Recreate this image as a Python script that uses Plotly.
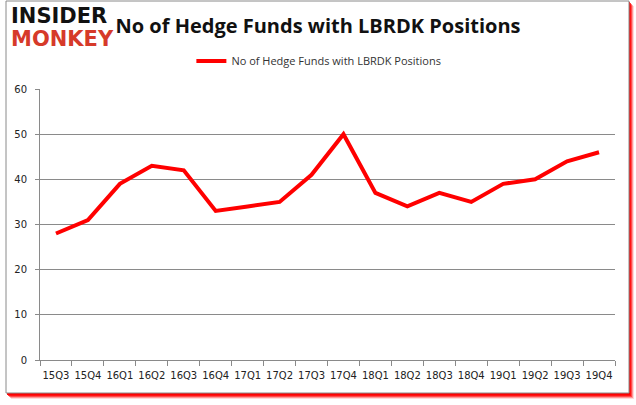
import plotly.graph_objects as go

quarters = ["15Q3", "15Q4", "16Q1", "16Q2", "16Q3", "16Q4", "17Q1", "17Q2", "17Q3",
            "17Q4", "18Q1", "18Q2", "18Q3", "18Q4", "19Q1", "19Q2", "19Q3", "19Q4"]
funds = [28, 31, 39, 43, 42, 33, 34, 35, 41, 50, 37, 34, 37, 35, 39, 40, 44, 46]
series_name = "No of Hedge Funds with LBRDK Positions"
y_ticks = [0, 10, 20, 30, 40, 50, 60]

W, H = 636, 405
L, R, T, B = 40, 21, 89, 45
PW, PH = W - L - R, H - T - B

def px(x):
    return (x - L) / PW

def py(y):
    return (H - B - y) / PH

fig = go.Figure()
fig.add_trace(go.Scatter(
    x=quarters, y=funds, mode="lines", name=series_name,
    line=dict(color="#ff0000", width=4), cliponaxis=False,
))

shapes = []
# blurred red shadow
for off, op in [(5, 0.15), (4, 0.3), (3, 0.5), (2, 0.75), (1, 0.95)]:
    shapes.append(dict(type="rect", xref="paper", yref="paper",
                       x0=px(6 + off), x1=px(629 + off), y0=py(393 + off + 1), y1=py(1 + off),
                       line=dict(width=0), fillcolor="rgba(255,0,0,%s)" % op, layer="below"))
shapes.append(dict(type="rect", xref="paper", yref="paper",
                   x0=px(6), x1=px(629), y0=py(393), y1=py(1),
                   line=dict(width=1, color="#8a8a8a"), fillcolor="white", layer="below"))

annotations = [
    dict(text="<b>INSIDER</b>", x=px(9), y=py(16), xref="paper", yref="paper",
         xanchor="left", yanchor="middle", showarrow=False,
         font=dict(family="DejaVu Sans", size=21, color="#111111")),
    dict(text="<b>MONKEY</b>", x=px(9), y=py(39), xref="paper", yref="paper",
         xanchor="left", yanchor="middle", showarrow=False,
         font=dict(family="DejaVu Sans", size=21, color="#d63a2a")),
]

fig.update_layout(
    width=W, height=H,
    margin=dict(l=L, r=R, t=T, b=B),
    paper_bgcolor="white", plot_bgcolor="white",
    title=dict(text="<b>No of Hedge Funds with LBRDK Positions</b>", x=0.5, xanchor="center",
               y=1 - 26 / H, yanchor="middle",
               font=dict(family="Open Sans", size=20, color="#111111")),
    showlegend=True,
    legend=dict(orientation="h", x=0.485, xanchor="center", y=py(61), yanchor="middle",
                font=dict(family="Open Sans", size=11, color="#333333"),
                bgcolor="rgba(0,0,0,0)", itemwidth=30),
    shapes=shapes,
    annotations=annotations,
    xaxis=dict(type="category", tickson="boundaries", ticks="outside", ticklen=5,
               tickcolor="#8a8a8a", showline=True, linecolor="#8a8a8a", linewidth=1,
               showgrid=False, tickangle=0, ticklabelstandoff=6,
               tickfont=dict(family="DejaVu Sans", size=10, color="#222222"),
               range=[-0.5, len(quarters) - 0.5]),
    yaxis=dict(range=[0, 60], tickvals=y_ticks, ticks="outside", ticklen=4,
               tickcolor="#8a8a8a", showline=True, linecolor="#8a8a8a", linewidth=1,
               showgrid=True, gridcolor="#8a8a8a", gridwidth=1, zeroline=False,
               ticklabelstandoff=6,
               tickfont=dict(family="DejaVu Sans", size=10, color="#222222")),
)

fig.write_html("out.html", config={"displayModeBar": False},
               post_script="document.body.style.margin='0';document.body.style.overflow='hidden';")
